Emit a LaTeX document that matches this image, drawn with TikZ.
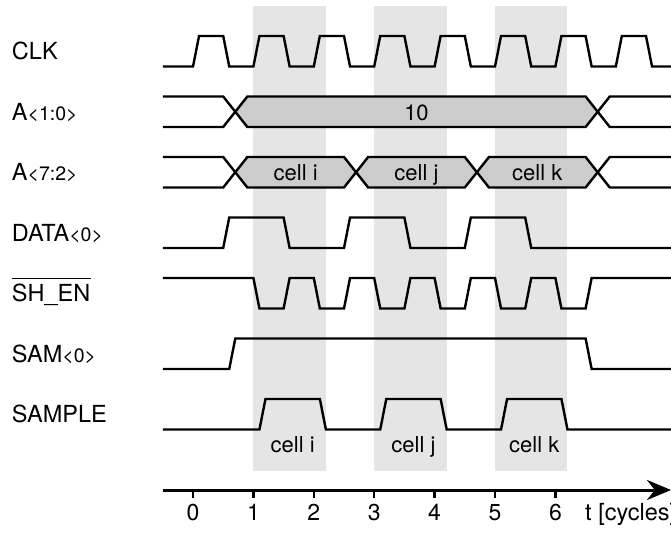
\documentclass[tikz,border=0pt]{standalone}
\usepackage{fontspec}
\setmainfont{TeX Gyre Heros}
\usetikzlibrary{arrows.meta}
\definecolor{bandgray}{gray}{0.9}
\definecolor{busgray}{gray}{0.8}
\newcommand\smtxt[1]{{\fontsize{19.5}{22}\selectfont #1}}
\tikzset{
  sig/.style={line width=2.4pt, line join=miter},
  lbl/.style={anchor=base west, inner sep=0pt, font=\fontsize{23.5}{27}\selectfont},
  txt/.style={anchor=base, inner sep=0pt, font=\fontsize{22}{26}\selectfont},
  ticktxt/.style={anchor=base, inner sep=0pt, font=\fontsize{23}{27}\selectfont},
  busfill/.style={fill=busgray},
  bandfill/.style={fill=bandgray},
}
\begin{document}
\begin{tikzpicture}[x=60.4pt,y=-1pt]
\useasboundingbox (-3.1954,0) rectangle (7.9139,533);
% shaded bands
\foreach \a in {1,3,5} \fill[bandfill] (\a,6) rectangle (\a+1.2,471);
% CLK
\draw[sig] (-0.5,66.5) \foreach \k in {0,...,7} { -- (\k,66.5) -- (\k+0.1,36) -- (\k+0.5,36) -- (\k+0.6,66.5) } -- (8,66.5);
% A<1:0>
\fill[busfill] (0.7,111.75) -- (0.9,96.5) -- (6.5,96.5) -- (6.7,111.75) -- (6.5,127) -- (0.9,127) -- cycle;
\draw[sig] (-0.5,96.5) -- (0.5,96.5) -- (0.9,127) -- (6.5,127) -- (6.9,96.5) -- (8,96.5);
\draw[sig] (-0.5,127) -- (0.5,127) -- (0.9,96.5) -- (6.5,96.5) -- (6.9,127) -- (8,127);
\node[txt] (val10) at (3.7,120) {10};
% A<7:2>
\foreach \a in {0.7,2.7,4.7} \fill[busfill] (\a,172.25) -- (\a+0.2,157) -- (\a+1.8,157) -- (\a+2,172.25) -- (\a+1.8,187.5) -- (\a+0.2,187.5) -- cycle;
\draw[sig] (-0.5,157) -- (0.5,157) -- (0.9,187.5) -- (2.5,187.5) -- (2.9,157) -- (4.5,157) -- (4.9,187.5) -- (6.5,187.5) -- (6.9,157) -- (8,157);
\draw[sig] (-0.5,187.5) -- (0.5,187.5) -- (0.9,157) -- (2.5,157) -- (2.9,187.5) -- (4.5,187.5) -- (4.9,157) -- (6.5,157) -- (6.9,187.5) -- (8,187.5);
\node[txt] (ci) at (1.7,180.5) {cell i};
\node[txt] (cj) at (3.7,180.5) {cell j};
\node[txt] (ck) at (5.7,180.5) {cell k};
% DATA<0>
\draw[sig] (-0.5,248) \foreach \k in {0,2,4} { -- (\k+0.5,248) -- (\k+0.6,217.5) -- (\k+1.5,217.5) -- (\k+1.6,248) } -- (8,248);
% SH_EN
\draw[sig] (-0.5,278) \foreach \k in {1,...,6} { -- (\k,278) -- (\k+0.1,308.5) -- (\k+0.5,308.5) -- (\k+0.6,278) } -- (8,278);
% SAM<0>
\draw[sig] (-0.5,369) -- (0.6,369) -- (0.7,338.5) -- (6.5,338.5) -- (6.6,369) -- (8,369);
% SAMPLE
\draw[sig] (-0.5,429.5) \foreach \k in {1,3,5} { -- (\k+0.1,429.5) -- (\k+0.2,399) -- (\k+1.1,399) -- (\k+1.2,429.5) } -- (8,429.5);
\node[txt] (si) at (1.65,452.5) {cell i};
\node[txt] (sj) at (3.65,452.5) {cell j};
\node[txt] (sk) at (5.65,452.5) {cell k};
% signal labels
\node[lbl] (lclk) at (-3,59.5) {CLK};
\node[lbl] (la10) at (-3,120) {A\smtxt{<1:0>}};
\node[lbl] (la72) at (-3,180.5) {A\smtxt{<7:2>}};
\node[lbl] (ldata) at (-3,241) {DATA\smtxt{<0>}};
\node[lbl] (lshen) at (-3,301.5) {SH\_EN};
\draw[line width=1.3pt] ([yshift=5pt]lshen.north west) -- ([yshift=5pt]lshen.north east);
\node[lbl] (lsam) at (-3,362) {SAM\smtxt{<0>}};
\node[lbl] (lsample) at (-3,422.5) {SAMPLE};
% time axis
\coordinate (axstart) at (-0.5,490);
\coordinate (axend) at (7.9139,490);
\draw[line width=3pt, -{Stealth[length=24pt,width=20pt]}] (axstart) -- (axend);
\foreach \k in {0,...,6} {
  \draw[line width=2.4pt] (\k,490) -- (\k,497.5);
  \node[ticktxt] (tick\k) at (\k,520) {\k};
}
\node[anchor=base west, inner sep=0pt, font=\fontsize{23.5}{27}\selectfont] (tlabel) at (6.49,520) {t [cycles]};
\end{tikzpicture}
\end{document}
